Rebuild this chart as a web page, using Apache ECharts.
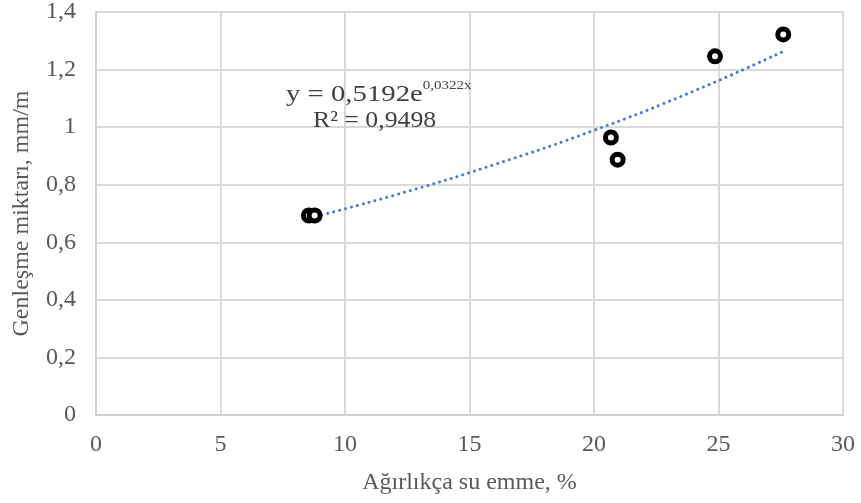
<!DOCTYPE html>
<html><head><meta charset="utf-8">
<script src="https://cdn.jsdelivr.net/npm/echarts@6/dist/echarts.min.js"></script>
<style>html,body{margin:0;padding:0;background:#fff}#c{width:861px;height:503px}</style>
</head><body><div id="c"></div>
<script>
// Measured points
const waterAbsorption = [8.55, 8.78, 20.68, 20.95, 24.86, 27.6];
const expansion = [0.693, 0.693, 0.964, 0.887, 1.246, 1.322];
// Trendline (y = 0,5192e^0,0322x) read along its length
const trendX = [8.6, 12, 16, 20, 24, 27.6];
const trendY = [0.685, 0.764, 0.870, 0.989, 1.125, 1.263];
const xTicks = [0, 5, 10, 15, 20, 25, 30];
const yTicks = [0, 0.2, 0.4, 0.6, 0.8, 1, 1.2, 1.4];
const eqMain = 'y = 0,5192e';
const eqExp = '0,0322x';
const r2Text = 'R² = 0,9498';
const xName = 'Ağırlıkça su emme, %';
const yName = 'Genleşme miktarı, mm/m';

const font = '"Liberation Serif", "Times New Roman", serif';
const chart = echarts.init(document.getElementById('c'), null, {renderer: 'canvas'});
chart.setOption({
  animation: false,
  backgroundColor: '#fff',
  grid: {left: 96, right: 18, top: 11, bottom: 88, containLabel: false},
  xAxis: {
    type: 'value', min: xTicks[0], max: xTicks[xTicks.length - 1], interval: 5,
    axisLine: {show: true, lineStyle: {color: '#d0d0d0', width: 2}},
    axisTick: {show: false},
    splitLine: {show: true, lineStyle: {color: '#d9d9d9', width: 2}},
    axisLabel: {color: '#595959', fontFamily: font, fontSize: 24, margin: 18},
    name: xName, nameLocation: 'middle', nameGap: 56,
    nameTextStyle: {color: '#595959', fontFamily: font, fontSize: 24}
  },
  yAxis: {
    type: 'value', min: yTicks[0], max: yTicks[yTicks.length - 1], interval: 0.2,
    axisLine: {show: true, lineStyle: {color: '#d0d0d0', width: 2}},
    axisTick: {show: false},
    splitLine: {show: true, lineStyle: {color: '#d9d9d9', width: 2}},
    axisLabel: {color: '#595959', fontFamily: font, fontSize: 24, margin: 20,
      formatter: v => String(Math.round(v * 10) / 10).replace('.', ',')},
    name: yName, nameLocation: 'middle', nameGap: 62, nameRotate: 90,
    nameTextStyle: {color: '#595959', fontFamily: font, fontSize: 24}
  },
  series: [
    {
      type: 'line', data: trendX.map((x, i) => [x, trendY[i]]),
      symbol: 'none', smooth: true, z: 2,
      lineStyle: {color: '#4f7bc4', width: 3, type: [0.1, 6], cap: 'round'}
    },
    {
      type: 'scatter', data: waterAbsorption.map((x, i) => [x, expansion[i]]),
      symbol: 'circle', symbolSize: 11, z: 3,
      itemStyle: {color: '#ffffff', borderColor: '#000000', borderWidth: 5, opacity: 1}
    }
  ],
  graphic: [
    {
      type: 'text', x: 286, y: 93, scaleX: 1.25, z: 10,
      style: {
        text: '{a|' + eqMain + '}{b|' + eqExp + '}',
        verticalAlign: 'middle',
        rich: {
          a: {fontFamily: font, fontSize: 23, fill: '#404040', verticalAlign: 'bottom', lineHeight: 26},
          b: {fontFamily: font, fontSize: 12, fill: '#404040', verticalAlign: 'top', padding: [0, 0, 9, 0], lineHeight: 26}
        }
      }
    },
    {
      type: 'text', x: 313, y: 121, scaleX: 1.12, z: 10,
      style: {text: r2Text, fontFamily: font, fontSize: 23, fill: '#404040', verticalAlign: 'middle'}
    }
  ]
});
</script></body></html>
